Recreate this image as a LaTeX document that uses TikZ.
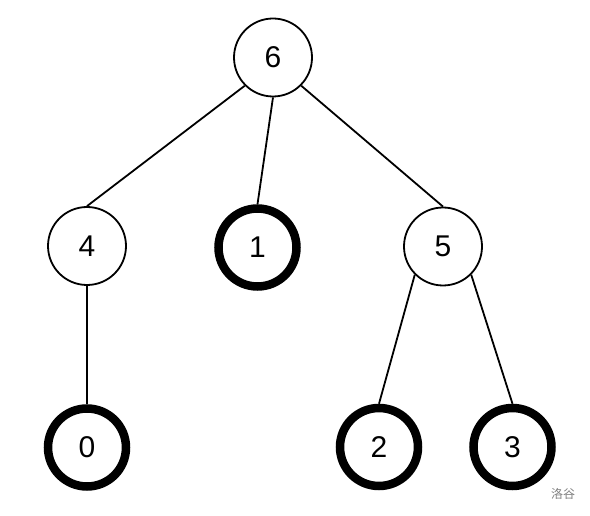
\documentclass[tikz,border=0pt]{standalone}
\usepackage{fontspec}
\setmainfont{Liberation Sans}
\newfontfamily\cjk{Noto Sans CJK SC}
\usetikzlibrary{arrows.meta}

\begin{document}
\begin{tikzpicture} [x = 1pt, y = 1pt,
    vertex/.style = {circle, draw, line width = 1.8pt, minimum size = 78pt, inner sep = 0pt, font = \fontsize{30}{30}\selectfont},
    leaf/.style = {vertex, line width = 8.5pt}]
    \useasboundingbox (0,0) rectangle (590,515);

    \node (n6) [vertex] at (273,457.5) {6};
    \node (n4) [vertex] at (87,269) {4};
    \node (n1) [leaf] at (257.5,267.5) {1};
    \node (n5) [vertex] at (443,268.5) {5};
    \node (n0) [leaf] at (87,67.5) {0};
    \node (n2) [leaf] at (379,68) {2};
    \node (n3) [leaf] at (512.5,68) {3};

    \path [line width = 1.8pt] (n6.south west) edge (n4.north);
    \path [line width = 1.8pt] (n6.south) edge (n1.north);
    \path [line width = 1.8pt] (n6.south east) edge (n5.north);
    \path [line width = 1.8pt] (n4.south) edge (n0.north);
    \path [line width = 1.8pt] (n5.south west) edge (n2.north);
    \path [line width = 1.8pt] (n5.south east) edge (n3.north);

    \node (mark) [text = gray, font = \cjk\fontsize{12}{12}\selectfont] at (563,21) {洛谷};
\end{tikzpicture}
\end{document}
